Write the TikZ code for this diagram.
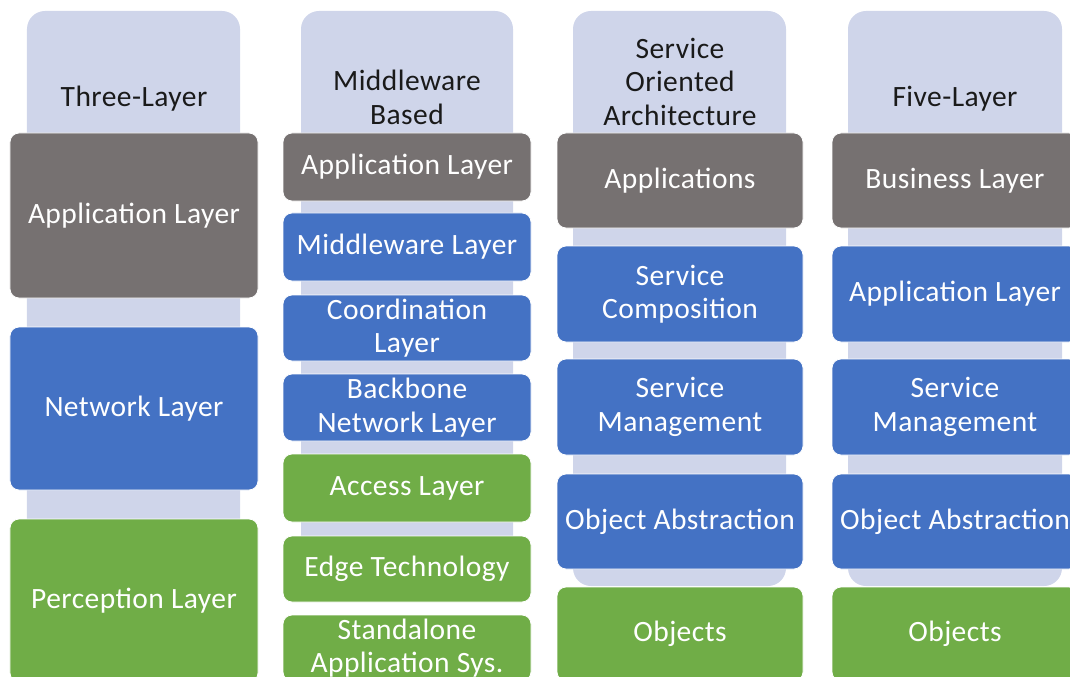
\documentclass[tikz,border=0pt]{standalone}
\usepackage{fontspec}
\setmainfont[LetterSpace=1.5]{Carlito}
\definecolor{lavender}{HTML}{CFD5EA}
\definecolor{boxgray}{HTML}{767171}
\definecolor{boxblue}{HTML}{4472C4}
\definecolor{boxgreen}{HTML}{70AD47}
\definecolor{headtext}{HTML}{1A1A1A}
\begin{document}
\begin{tikzpicture}[x=1bp,y=-1bp,
  lav/.style={fill=lavender, draw=none, rounded corners=18bp, inner sep=0pt},
  head/.style={text=headtext, align=center, inner sep=0pt, font=\fontsize{29.5bp}{33.5bp}\selectfont},
  layerbox/.style={draw=white, line width=0.8bp, rounded corners=9bp, text=white, align=center, inner sep=0pt, font=\fontsize{29.5bp}{33.5bp}\selectfont},
  graybox/.style={layerbox, fill=boxgray},
  bluebox/.style={layerbox, fill=boxblue},
  greenbox/.style={layerbox, fill=boxgreen},
  wideA/.style={minimum width=248bp},
  wideB/.style={minimum width=246bp}]
\useasboundingbox (0,0) rectangle (1070,677);
\clip (0,0) rectangle (1070,677);
% column backgrounds
\node[lav, minimum width=213bp, minimum height=575bp] (bg1) at (133.5,298.5) {};
\node[lav, minimum width=212bp, minimum height=575bp] (bg2) at (407,298.5) {};
\node[lav, minimum width=213bp, minimum height=575bp] (bg3) at (679.5,298.5) {};
\node[lav, minimum width=214bp, minimum height=575bp] (bg4) at (955,298.5) {};
% headers
\node[head] (h1) at (134,98.5) {Three-Layer};
\node[head] (h2) at (407,97.5) {Middleware\\Based};
\node[head] (h3) at (680,81.5) {Service\\Oriented\\Architecture};
\node[head] (h4) at (955,98.5) {Five-Layer};
% column 1
\node[graybox, wideA, minimum height=165bp] (a1) at (134,215.5) {Application Layer};
\node[bluebox, wideA, minimum height=163bp] (a2) at (134,408.5) {Network Layer};
\node[greenbox, wideA, minimum height=163bp] (a3) at (134,600.5) {Perception Layer};
% column 2
\node[graybox, wideA, minimum height=68bp] (b1) at (407,167) {Application Layer};
\node[bluebox, wideA, minimum height=68bp] (b2) at (407,247) {Middleware Layer};
\node[bluebox, wideA, minimum height=66bp] (b3) at (407,328) {Coordination\\Layer};
\node[bluebox, wideA, minimum height=67bp] (b4) at (407,407.5) {Backbone\\Network Layer};
\node[greenbox, wideA, minimum height=68bp] (b5) at (407,488) {Access Layer};
\node[greenbox, wideA, minimum height=66bp] (b6) at (407,569) {Edge Technology};
\node[greenbox, wideA, minimum height=66bp] (b7) at (407,648) {Standalone\\Application Sys.};
% column 3
\node[graybox, wideB, minimum height=95bp] (c1) at (680,180.5) {Applications};
\node[bluebox, wideB, minimum height=96bp] (c2) at (680,294) {Service\\Composition};
\node[bluebox, wideB, minimum height=96bp] (c3) at (680,407) {Service\\Management};
\node[bluebox, wideB, minimum height=95bp] (c4) at (680,521.5) {Object Abstraction};
\node[greenbox, wideB, minimum height=94bp] (c5) at (680,634) {Objects};
% column 4
\node[graybox, wideB, minimum height=95bp] (d1) at (955,180.5) {Business Layer};
\node[bluebox, wideB, minimum height=96bp] (d2) at (955,294) {Application Layer};
\node[bluebox, wideB, minimum height=96bp] (d3) at (955,407) {Service\\Management};
\node[bluebox, wideB, minimum height=95bp] (d4) at (955,521.5) {Object Abstraction};
\node[greenbox, wideB, minimum height=94bp] (d5) at (955,634) {Objects};
\end{tikzpicture}
\end{document}
